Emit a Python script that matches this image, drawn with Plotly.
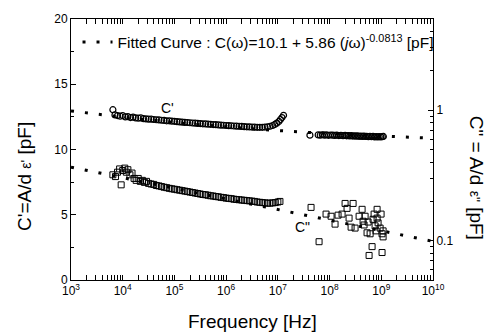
import numpy as np
import plotly.graph_objects as go

# ---------------- data ----------------
# C' (real part), low-frequency branch: log10(f/Hz), value [pF]
cp_lo_exp = [3.81,3.85,3.90,3.95,4.00,4.05,4.10,4.15,4.20,4.25,4.30,4.35,4.40,4.45,4.50,4.55,4.60,4.65,4.70,4.75,
             4.80,4.85,4.90,4.95,5.00,5.05,5.10,5.15,5.20,5.25,5.30,5.35,5.40,5.45,5.50,5.55,5.60,5.65,5.70,5.75,
             5.80,5.85,5.90,5.95,6.00,6.05,6.10,6.15,6.20,6.25,6.30,6.35,6.40,6.45,6.50,6.55,6.60,6.65,6.70,6.75,
             6.80,6.85,6.90,6.94,6.98,7.02,7.05,7.08,7.11]
cp_lo_val = [13.05,12.65,12.6,12.55,12.6,12.5,12.52,12.45,12.48,12.42,12.4,12.42,12.36,12.35,12.33,12.32,12.3,12.28,12.27,12.24,
             12.23,12.2,12.2,12.17,12.16,12.13,12.12,12.1,12.08,12.07,12.05,12.03,12.02,12.0,11.99,11.97,11.96,11.94,11.93,11.91,
             11.9,11.88,11.87,11.86,11.84,11.83,11.82,11.8,11.79,11.78,11.77,11.75,11.74,11.73,11.72,11.71,11.7,11.7,11.7,11.72,
             11.74,11.78,11.84,11.92,12.02,12.15,12.3,12.45,12.62]
# C' high-frequency branch
cp_hi_exp = [7.62,7.78,7.82,7.86,7.90,7.94,7.98,8.02,8.06,8.10,8.14,8.18,8.22,8.26,8.30,8.33,8.36,8.39,8.42,8.45,
             8.48,8.51,8.54,8.57,8.60,8.63,8.66,8.69,8.72,8.75,8.78,8.81,8.84,8.87,8.90,8.93,8.96,8.99,9.02,9.04]
cp_hi_val = [11.1,11.12,11.1,11.13,11.1,11.12,11.09,11.11,11.1,11.08,11.1,11.07,11.09,11.06,11.08,11.05,11.07,11.04,11.06,11.03,
             11.05,11.02,11.04,11.01,11.03,11.0,11.02,11.0,11.01,10.99,11.0,10.98,11.0,10.97,10.99,10.97,10.98,10.97,10.98,11.0]

# C'' (imaginary part), low-frequency branch [pF, right log axis]
cpp_lo_exp = [3.81,3.86,3.90,3.94,3.97,4.00,4.04,4.07,4.10,4.14,4.18,4.22,4.26,4.30,4.34,4.38,4.42,4.46,4.50,4.55,
              4.60,4.65,4.70,4.75,4.80,4.85,4.90,4.95,5.00,5.05,5.10,5.15,5.20,5.25,5.30,5.35,5.40,5.45,5.50,5.55,
              5.60,5.65,5.70,5.75,5.80,5.85,5.90,5.95,6.00,6.05,6.10,6.15,6.20,6.25,6.30,6.35,6.40,6.45,6.50,6.55,
              6.60,6.65,6.70,6.75,6.80,6.85,6.90,6.95,7.00,7.04]
cpp_lo_val = [0.32,0.31,0.335,0.355,0.268,0.345,0.36,0.335,0.35,0.32,0.33,0.30,0.29,0.30,0.285,0.29,0.28,0.285,0.275,0.272,
              0.27,0.265,0.263,0.26,0.257,0.255,0.252,0.25,0.248,0.246,0.244,0.242,0.24,0.238,0.236,0.234,0.232,0.23,0.228,0.226,
              0.225,0.223,0.221,0.22,0.218,0.217,0.215,0.214,0.212,0.211,0.21,0.208,0.207,0.206,0.205,0.204,0.203,0.202,0.201,0.2,
              0.198,0.197,0.196,0.195,0.194,0.194,0.195,0.196,0.198,0.2]
# C'' high-frequency scatter
cpp_hi_exp = [7.642,7.797,7.932,8.029,8.106,8.164,8.242,8.300,8.338,8.377,8.416,8.455,8.493,8.571,8.629,8.648,8.667,8.687,
              8.725,8.745,8.764,8.784,8.822,8.841,8.861,8.880,8.899,8.919,8.919,8.938,8.977,8.996,9.015,9.015,9.035,9.035]
cpp_hi_val = [0.180,0.0983,0.160,0.154,0.134,0.157,0.160,0.193,0.177,0.149,0.127,0.193,0.125,0.154,0.174,0.141,0.132,0.154,
              0.115,0.139,0.0771,0.113,0.0901,0.146,0.160,0.130,0.119,0.149,0.174,0.137,0.125,0.160,0.113,0.0812,0.107,0.119]

# fitted curve parameters: C(w) = C_INF + A (j w)^(-N)
C_INF = 10.1
A_FIT = 5.86
N_FIT = 0.0813

x_ticks_exp = [3, 4, 5, 6, 7, 8, 9, 10]
y_ticks = [0, 5, 10, 15, 20]
y2_ticks = [0.1, 1]
y2_ticklabels = ["0.1", "1"]

# ---------------- figure ----------------
FONT = "Liberation Sans, Arial, sans-serif"

f_fit = np.logspace(3, 10, 400)
w = 2 * np.pi * f_fit
fit_re = C_INF + A_FIT * w ** (-N_FIT) * np.cos(N_FIT * np.pi / 2)
fit_im = A_FIT * w ** (-N_FIT) * np.sin(N_FIT * np.pi / 2)

to_hz = lambda e: np.power(10.0, np.array(e))

dotline = dict(color="black", width=3, dash="3px,11px")
circ = dict(symbol="circle-open", size=6, color="black", line=dict(width=1.2, color="black"))
sq = dict(symbol="square-open", size=6, color="black", line=dict(width=1, color="black"))

fig = go.Figure()
fig.add_trace(go.Scatter(x=f_fit, y=fit_re, mode="lines", line=dotline,
                         name="Fitted Curve : C(\u03c9)=10.1 + 5.86 (<i>j</i>\u03c9)<sup>-0.0813</sup> [pF]",
                         showlegend=True))
fig.add_trace(go.Scatter(x=f_fit, y=fit_im, mode="lines", line=dotline, yaxis="y2", showlegend=False))
fig.add_trace(go.Scatter(x=to_hz(cp_lo_exp), y=cp_lo_val, mode="markers", marker=circ, showlegend=False))
fig.add_trace(go.Scatter(x=to_hz(cp_hi_exp), y=cp_hi_val, mode="markers", marker=circ, showlegend=False))
fig.add_trace(go.Scatter(x=to_hz(cpp_lo_exp), y=cpp_lo_val, mode="markers", marker=sq, yaxis="y2", showlegend=False))
fig.add_trace(go.Scatter(x=to_hz(cpp_hi_exp), y=cpp_hi_val, mode="markers", marker=sq, yaxis="y2", showlegend=False))

x_minor = [m * 10 ** e for e in range(3, 10) for m in range(2, 10)]
y2_minor = [0.05, 0.06, 0.07, 0.08, 0.09, 0.2, 0.3, 0.4, 0.5, 0.6, 0.7, 0.8, 0.9, 2, 3, 4, 5]

fig.update_layout(
    width=489, height=336,
    margin=dict(l=71, r=56, t=14, b=56),
    paper_bgcolor="white", plot_bgcolor="white",
    font=dict(family=FONT, size=12, color="black"),
    showlegend=True,
    legend=dict(x=0.018, y=0.91, xanchor="left", yanchor="middle",
                bgcolor="rgba(0,0,0,0)", borderwidth=0,
                font=dict(family=FONT, size=15.5, color="black")),
    xaxis=dict(type="log", range=[3, 10], showgrid=False, zeroline=False,
               showline=True, linecolor="black", linewidth=1, mirror="allticks",
               ticks="inside", ticklen=5, tickcolor="black",
               tickvals=[10 ** e for e in x_ticks_exp],
               ticktext=["10<sup>%d</sup>" % e for e in x_ticks_exp],
               tickfont=dict(size=12),
               minor=dict(ticks="inside", ticklen=3, tickcolor="black", tickvals=x_minor, showgrid=False)),
    yaxis=dict(range=[0, 20], showgrid=False, zeroline=False,
               showline=True, linecolor="black", linewidth=1, mirror=False,
               ticks="inside", ticklen=5, tickcolor="black",
               tickvals=y_ticks, tickfont=dict(size=12),
               minor=dict(ticks="inside", ticklen=3, tickcolor="black", dtick=2.5, showgrid=False)),
    yaxis2=dict(type="log", range=[np.log10(0.05), np.log10(5)], overlaying="y", side="right",
                showgrid=False, zeroline=False, showline=True, linecolor="black", linewidth=1,
                ticks="inside", ticklen=5, tickcolor="black",
                tickvals=y2_ticks, ticktext=y2_ticklabels, tickfont=dict(size=12),
                minor=dict(ticks="inside", ticklen=3, tickcolor="black", tickvals=y2_minor, showgrid=False)),
)

fig.add_annotation(text="Frequency [Hz]", xref="paper", yref="paper", x=0.5, y=-0.159,
                   yanchor="middle", showarrow=False, font=dict(size=19))
fig.add_annotation(text="C'=A/d <span style='font-size:14px'>\u03b5'</span> [pF]", xref="paper", yref="paper",
                   x=-0.127, y=0.395, textangle=-90, showarrow=False, xanchor="center", yanchor="middle",
                   font=dict(size=19))
fig.add_annotation(text="C\" = A/d <span style='font-size:14px'>\u03b5\"</span> [pF]", xref="paper", yref="paper",
                   x=1.12, y=0.39, textangle=90, showarrow=False, xanchor="center", yanchor="middle",
                   font=dict(size=19))
fig.add_annotation(text="C'", x=4.86, y=13.2, xref="x", yref="y", showarrow=False, font=dict(size=14))
fig.add_annotation(text="C\"", x=7.47, y=4.1, xref="x", yref="y", showarrow=False, font=dict(size=14))

fig.write_html("out.html", config={"displayModeBar": False},
               post_script="document.body.style.margin='0px';")
